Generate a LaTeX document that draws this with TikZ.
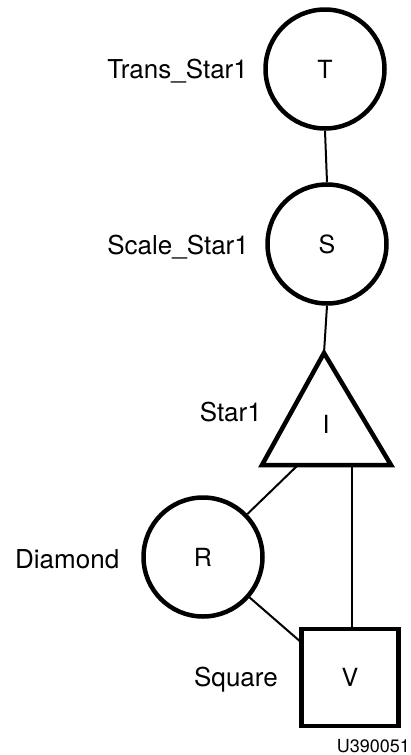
\documentclass[tikz,border=0pt]{standalone}
\usepackage{fontspec}
\setmainfont{TeX Gyre Heros}
\begin{document}
\begin{tikzpicture}[x=1pt,y=-1pt,
  circ/.style={circle, draw, line width=4.5pt, minimum size=119pt, inner sep=0pt, font=\fontsize{25}{28}\selectfont},
  sqbox/.style={rectangle, draw, line width=4.5pt, minimum size=97pt, inner sep=0pt, font=\fontsize{25}{28}\selectfont},
  tri/.style={line width=4.5pt, line join=miter},
  lbl/.style={font=\fontsize{26}{30}\selectfont, inner sep=0pt},
  conn/.style={line width=2pt}]
\useasboundingbox (0,0) rectangle (411,755);
% nodes
\node[circ] (T) at (325,69) {T};
\node[circ] (S) at (327,244) {S};
\node[circ] (R) at (203,557) {R};
\node[sqbox] (V) at (350,677.5) {V};
% triangle
\coordinate (Iapex) at (324,353);
\coordinate (Ibl) at (262,465);
\coordinate (Ibr) at (391,465);
\draw[tri] (Iapex) -- (Ibl) -- (Ibr) -- cycle;
\node[font=\fontsize{25}{28}\selectfont, inner sep=0pt] (I) at (326,424) {I};
\coordinate (Ib1) at (298,465);
\coordinate (Ib2) at (352,465);
\coordinate (Vl) at (302,643);
% connectors
\draw[conn] (T.south) -- (S.north);
\draw[conn] (S.south) -- (Iapex);
\draw[conn] (Ib1) -- (R);
\draw[conn] (Ib2) -- (Ib2 |- V.north);
\draw[conn] (R) -- (Vl);
% labels
\node[lbl, anchor=base east] (lT) at (248,78) {Trans\_Star1};
\node[lbl, anchor=base east] (lS) at (249,254) {Scale\_Star1};
\node[lbl, anchor=base east] (lI) at (262,421) {Star1};
\node[lbl, anchor=base west] (lR) at (15,568) {Diamond};
\node[lbl, anchor=base east] (lV) at (278,686) {Square};
\node[font=\fontsize{18}{22}\selectfont, inner sep=0pt, anchor=base east] (id) at (410,752) {U390051};
\end{tikzpicture}
\end{document}
